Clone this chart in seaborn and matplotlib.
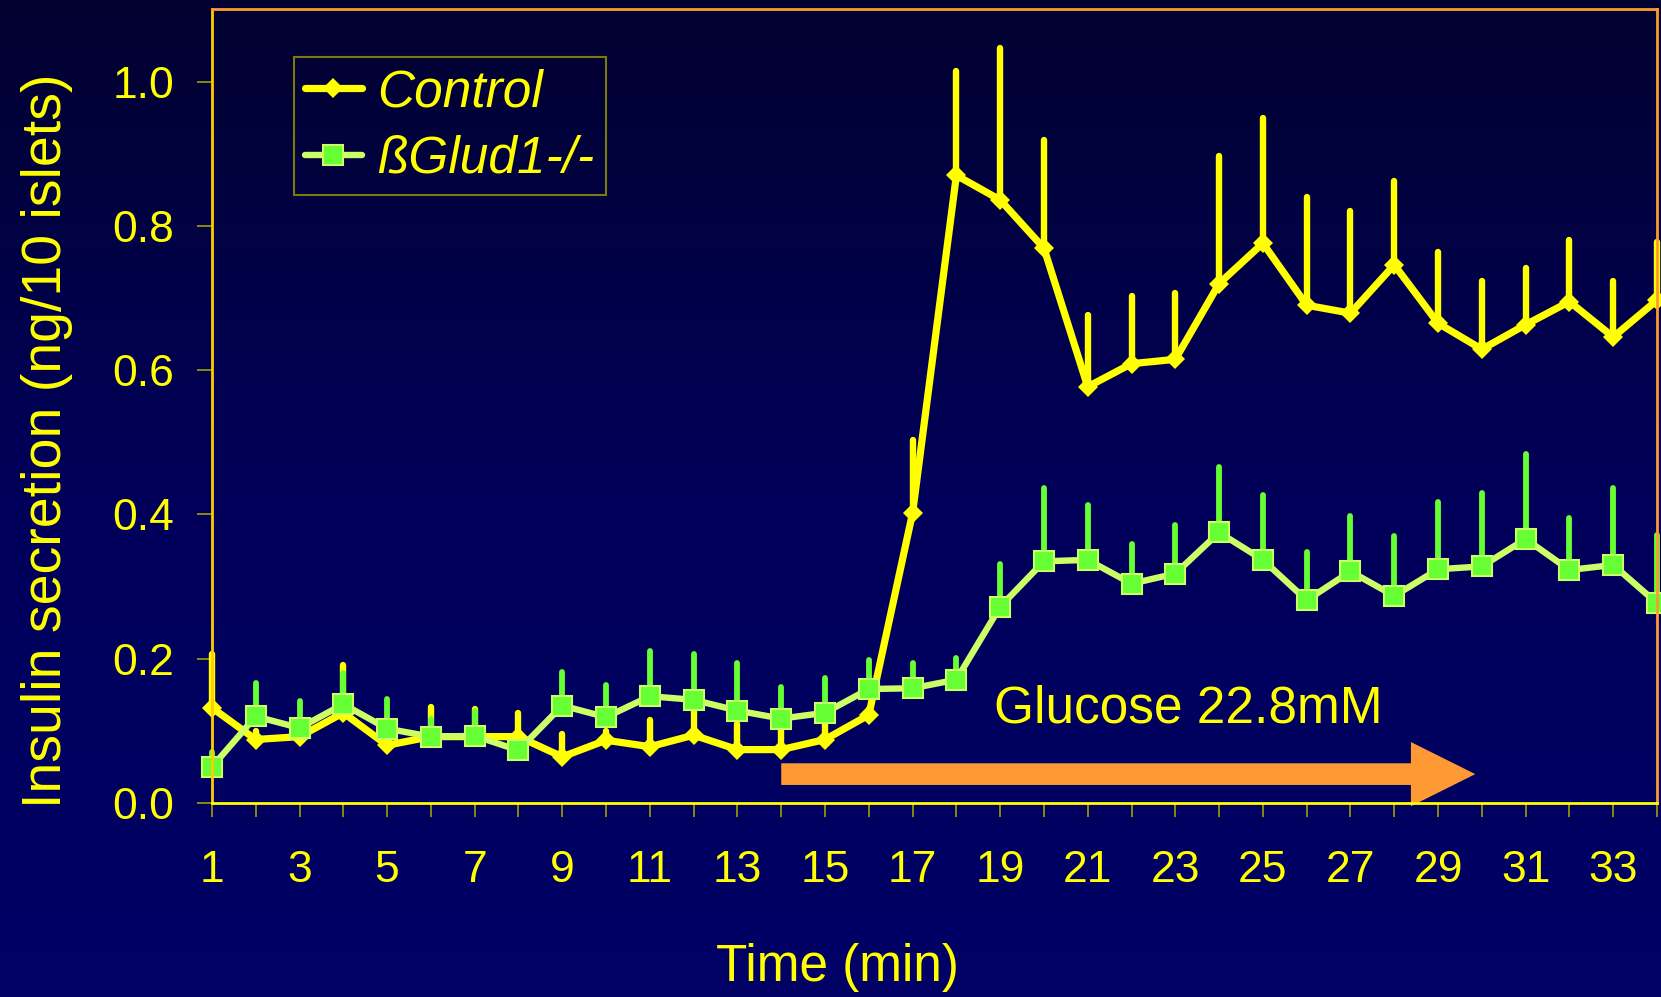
import numpy as np
import pandas as pd
import matplotlib
matplotlib.use("Agg")
import matplotlib.pyplot as plt
from matplotlib.colors import LinearSegmentedColormap
from matplotlib.lines import Line2D
import seaborn as sns

# Perifusion time points (min)
time = list(range(1, 35))

# Control islets: mean insulin secretion and upper error bound
control_mean = [0.132, 0.088, 0.092, 0.125, 0.080, 0.092, 0.092, 0.092, 0.064, 0.087,
                0.078, 0.094, 0.074, 0.074, 0.088, 0.122, 0.402, 0.870, 0.836, 0.769,
                0.577, 0.609, 0.615, 0.720, 0.776, 0.690, 0.679, 0.746, 0.665, 0.629,
                0.663, 0.695, 0.646, 0.697]
control_err = [0.206, 0.100, 0.100, 0.191, 0.090, 0.133, 0.130, 0.125, 0.096, 0.100,
               0.115, 0.140, 0.110, 0.115, 0.120, 0.130, 0.503, 1.015, 1.047, 0.919,
               0.677, 0.703, 0.707, 0.897, 0.950, 0.840, 0.821, 0.862, 0.764, 0.724,
               0.742, 0.781, 0.724, 0.778]

# βGlud1-/- islets: mean insulin secretion and upper error bound
glud_mean = [0.050, 0.120, 0.104, 0.137, 0.103, 0.092, 0.093, 0.073, 0.135, 0.119,
             0.148, 0.143, 0.128, 0.117, 0.125, 0.158, 0.159, 0.171, 0.272, 0.335,
             0.337, 0.304, 0.318, 0.375, 0.337, 0.281, 0.321, 0.287, 0.324, 0.328,
             0.366, 0.323, 0.330, 0.277]
glud_err = [0.070, 0.167, 0.142, 0.180, 0.144, 0.117, 0.127, 0.080, 0.181, 0.164,
            0.210, 0.207, 0.194, 0.161, 0.173, 0.198, 0.194, 0.201, 0.331, 0.436,
            0.413, 0.359, 0.385, 0.466, 0.427, 0.348, 0.398, 0.370, 0.417, 0.430,
            0.484, 0.395, 0.436, 0.372]

y_ticks = [0.0, 0.2, 0.4, 0.6, 0.8, 1.0]
x_tick_labels = [str(t) if t % 2 == 1 else "" for t in time]
series_labels = ["Control", "ßGlud1-/-"]

df = pd.DataFrame({
    "time": time + time,
    "insulin": control_mean + glud_mean,
    "group": [series_labels[0]] * len(time) + [series_labels[1]] * len(time),
})

sns.set_theme(style="white")
plt.rcParams["font.family"] = ["Liberation Sans", "DejaVu Sans"]

YELLOW = "#ffff00"
GREEN_LINE = "#ccff66"
GREEN_MARK = "#66ff33"
ORANGE = "#ff9933"
OLIVE = "#a0a000"

fig = plt.figure(figsize=(16.61, 9.97), dpi=100)

# Dark blue vertical gradient behind everything
bg = fig.add_axes([0, 0, 1, 1], zorder=-10)
cmap = LinearSegmentedColormap.from_list("bg", ["#020230", "#00005a", "#000066"])
grad = np.linspace(0, 1, 256).reshape(-1, 1)
bg.imshow(grad, aspect="auto", cmap=cmap, extent=[0, 1, 0, 1], origin="upper")
bg.set_axis_off()

ax = fig.add_axes([0.1276, 0.1946, 0.870, 0.7959])
ax.set_facecolor("none")

# Upper error bars
ax.vlines(time, control_mean, control_err, colors=YELLOW, linewidth=4.6,
          capstyle="round", zorder=2, clip_on=False)
ax.vlines(time, glud_mean, glud_err, colors=GREEN_MARK, linewidth=4.2,
          capstyle="round", zorder=2.2, clip_on=False)

ctrl = df[df["group"] == series_labels[0]]
glud = df[df["group"] == series_labels[1]]

sns.lineplot(data=ctrl, x="time", y="insulin", ax=ax, color=YELLOW,
             linewidth=5.2, marker="D", markersize=10.5, markeredgewidth=0,
             markerfacecolor=YELLOW, zorder=3, legend=False, clip_on=False)
sns.lineplot(data=glud, x="time", y="insulin", ax=ax, color=GREEN_LINE,
             linewidth=4.6, marker="s", markersize=14, markeredgewidth=1.5,
             markerfacecolor=GREEN_MARK, markeredgecolor=GREEN_LINE,
             zorder=4, legend=False, clip_on=False)

# Glucose stimulation period
ax.arrow(14, 0.040, 15.85, 0, width=0.030, head_width=0.089, head_length=1.47,
         length_includes_head=True, color=ORANGE, linewidth=0, clip_on=False,
         zorder=1.5)
ax.text(18.85, 0.112, "Glucose 22.8mM", color=YELLOW, fontsize=37,
        va="baseline", ha="left")

ax.set_xlim(1, 34)
ax.set_ylim(0, 1.1)
ax.set_xticks(time)
ax.set_xticklabels(x_tick_labels)
ax.set_yticks(y_ticks)
ax.set_yticklabels([f"{v:.1f}" for v in y_ticks])

ax.tick_params(axis="x", direction="out", length=10, width=1.2, color=OLIVE,
               labelcolor=YELLOW, labelsize=32, pad=24, bottom=True)
ax.tick_params(axis="y", direction="out", length=11, width=1.2, color=OLIVE,
               labelcolor=YELLOW, labelsize=32, pad=16, left=True)

for side, col in [("left", "#ffcc00"), ("bottom", YELLOW),
                  ("top", ORANGE), ("right", ORANGE)]:
    ax.spines[side].set_visible(True)
    ax.spines[side].set_color(col)
    ax.spines[side].set_linewidth(2)
    ax.spines[side].set_zorder(5)

ax.set_xlabel("Time (min)", color=YELLOW, fontsize=37)
ax.xaxis.set_label_coords(0.433, -0.176)
ax.set_ylabel("Insulin secretion (ng/10 islets)", color=YELLOW, fontsize=40)
ax.yaxis.set_label_coords(-0.096, 0.457)

handles = [
    Line2D([], [], color=YELLOW, linewidth=5.2, marker="D", markersize=10.5,
           markeredgewidth=0, solid_capstyle="round"),
    Line2D([], [], color=GREEN_LINE, linewidth=4.6, marker="s", markersize=14,
           markeredgewidth=1.5, markerfacecolor=GREEN_MARK,
           markeredgecolor=GREEN_LINE, solid_capstyle="round"),
]
leg = ax.legend(handles, series_labels, loc="upper left",
                bbox_to_anchor=(0.0567, 0.940), borderaxespad=0,
                prop={"size": 37, "style": "italic"}, handlelength=1.1,
                handletextpad=0.3, labelspacing=0.34, borderpad=0.22,
                fancybox=False, frameon=True)
leg.get_frame().set_edgecolor("#999900")
leg.get_frame().set_linewidth(1.5)
leg.get_frame().set_facecolor("none")
for txt in leg.get_texts():
    txt.set_color(YELLOW)

fig.savefig("out.png", dpi=100)
